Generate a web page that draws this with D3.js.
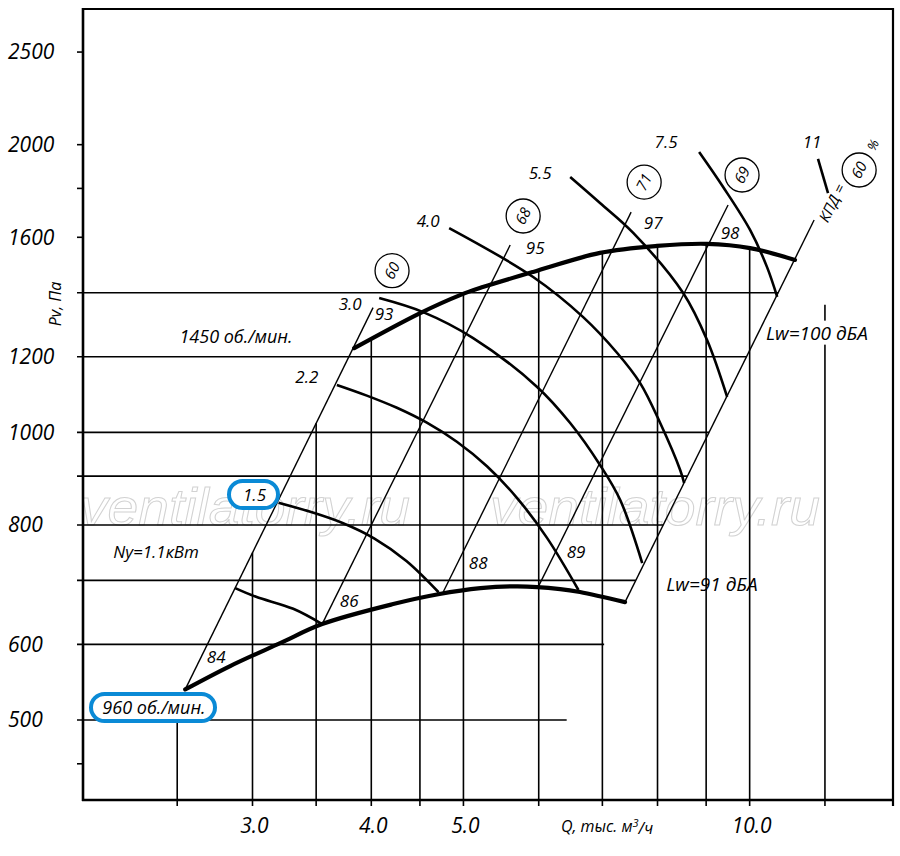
<!DOCTYPE html>
<html><head><meta charset="utf-8">
<script src="https://cdn.jsdelivr.net/npm/d3@7"></script>
<style>
body{margin:0;background:#fff}
text{font-family:"Open Sans",sans-serif;font-style:italic;fill:#000}
</style></head>
<body><svg id="c" width="900" height="856"></svg>
<script>
// ---------------- data ----------------
const qDomain = [1.99, 14.15];          // тыс. м3/ч
const pDomain = [412.4, 2780];          // Па
const qGrid = [2.5, 3, 3.5, 4, 4.5, 5, 6, 7, 8, 9, 10];
const qTickLabels = [3, 4, 5, 10];
const q12 = 12, p12Top = 1360;
const pGrid = [500, 600, 700, 800, 900, 1000, 1200, 1400];
const pTicks = [450, 500, 600, 700, 800, 900, 1000, 1200, 1400, 1600, 1800, 2000, 2500];
const pTickLabels = [500, 600, 800, 1000, 1200, 1600, 2000, 2500];

const curve960 = [[2.549,538.3],[2.842,569.5],[3.208,601.8],[3.551,630.1],[4.218,661.2],[4.704,677],[5.21,687],[5.70,690],[6.32,685.5],[6.63,680.7],[7.395,664.3]];
const curve1450 = [[3.838,1225],[4.503,1333],[4.96,1392],[5.24,1419],[5.92,1472],[6.96,1541],[7.99,1567],[9.02,1575],[10.01,1559],[11.16,1515]];

const powerNames = ["1.1","1.5","2.2","3.0","4.0","5.5","7.5","11"];
const power11 = [[2.877,687.2],[3.026,672.9],[3.311,653.7],[3.551,630.1]];
const power15 = [[3.195,844.2],[3.451,825.8],[3.731,803.8],[4.031,774.2],[4.355,733.5],[4.708,680.3]];
const power22 = [[3.680,1121],[3.957,1092.6],[4.256,1061],[4.576,1023.5],[4.921,977.5],[5.293,921.5],[5.691,854.1],[6.119,776],[6.606,684]];
const power30 = [[4.077,1382],[4.535,1336],[5.119,1255],[5.977,1115.7],[6.475,1022.7],[6.96,924.4],[7.309,849.6],[7.709,729.9]];
const power40 = [[4.83,1636],[5.92,1454],[6.682,1320],[7.256,1210.7],[7.671,1126],[8.052,1022.7],[8.451,913.3],[8.533,885]];
const power55 = [[6.475,1850],[6.96,1737.7],[7.543,1616.8],[8.513,1399],[9.02,1249],[9.469,1089]];
const power75 = [[8.848,1964.9],[9.378,1806],[10.01,1628.5],[10.43,1489],[10.69,1385.8]];
const power110 = [[11.80,1932.7],[12.09,1780]];
const powerCurves = [power11, power15, power22, power30, power40, power55, power75, power110];

// system (constant efficiency / noise) lines: [bottom, top]
const sysLines = [
  [[2.549,538.3],[4.017,1350.5]],
  [[3.551,630.1],[5.599,1570.6]],
  [[4.761,680.7],[7.505,1700]],
  [[5.991,688.8],[9.49,1729.5]],
  [[7.395,664.3],[11.69,1668]]
];
const lwLow = ["84","86","88","89"];
const lwHigh = ["93","95","97","98"];
const effValues = ["60","68","71","69","60"];

// ---------------- drawing ----------------
const svg = d3.select("#c");
const x = d3.scaleLog().domain(qDomain).range([83, 893]);
const y = d3.scaleLog().domain(pDomain).range([800, 8]);
const L = Math.log10;
const P = d => [x(d[0]), y(d[1])];

function lineP(seg, q){ const [[q1,p1],[q2,p2]] = seg; return Math.pow(10, L(p1) + (L(q)-L(q1))*(L(p2)-L(p1))/(L(q2)-L(q1))); }
function lineQ(seg, p){ const [[q1,p1],[q2,p2]] = seg; return Math.pow(10, L(q1) + (L(p)-L(p1))*(L(q2)-L(q1))/(L(p2)-L(p1))); }
function curveP(c, q){
  for(let i=0;i<c.length-1;i++){
    if(q>=c[i][0] && q<=c[i+1][0]){
      const t=(L(q)-L(c[i][0]))/(L(c[i+1][0])-L(c[i][0]));
      return Math.pow(10, L(c[i][1]) + t*(L(c[i+1][1])-L(c[i][1])));
    }
  }
  return c[c.length-1][1];
}

// watermark (beneath)
const wm = svg.append("g");
[80, 490].forEach(x0=>{
  wm.append("text").attr("x",x0).attr("y",525)
    .style("font-family","'Liberation Sans',Arial,sans-serif").style("font-size","52px")
    .style("fill","none").style("stroke","#d2d2d2").style("stroke-width",1)
    .attr("textLength",330).attr("lengthAdjust","spacingAndGlyphs")
    .text("ventilatorry.ru");
});

const grid = svg.append("g").attr("stroke","#000").attr("stroke-width",1.6).attr("fill","none");
// vertical grid lines: bottom to upper envelope
qGrid.forEach(q=>{
  const pTop = q < curve1450[0][0] ? lineP(sysLines[0], q) : curveP(curve1450, q);
  grid.append("line").attr("x1",x(q)).attr("x2",x(q)).attr("y1",y(pTop)).attr("y2",806);
});
grid.append("line").attr("x1",x(q12)).attr("x2",x(q12)).attr("y1",y(p12Top)).attr("y2",806);
// horizontal grid lines: left axis to right boundary line
pGrid.forEach(p=>{
  const qEnd = lineQ(sysLines[4], p);
  grid.append("line").attr("x1",77).attr("x2",x(qEnd)).attr("y1",y(p)).attr("y2",y(p));
});
// extra y ticks
pTicks.filter(p=>!pGrid.includes(p)).forEach(p=>{
  grid.append("line").attr("x1",77).attr("x2",83).attr("y1",y(p)).attr("y2",y(p));
});

// system lines
const sys = svg.append("g").attr("stroke","#000").attr("stroke-width",1.4);
sysLines.forEach(s=>{
  sys.append("line").attr("x1",x(s[0][0])).attr("y1",y(s[0][1])).attr("x2",x(s[1][0])).attr("y2",y(s[1][1]));
});

const line = d3.line().x(d=>x(d[0])).y(d=>y(d[1])).curve(d3.curveCatmullRom.alpha(0.5));
// power curves
svg.append("g").selectAll("path").data(powerCurves).join("path")
  .attr("d", line).attr("fill","none").attr("stroke","#000").attr("stroke-width",2.6);
// operating curves
[curve960, curve1450].forEach(c=>{
  svg.append("path").attr("d", line(c)).attr("fill","none").attr("stroke","#000").attr("stroke-width",4.2).attr("stroke-linecap","round");
});

// frame
const fr = svg.append("g").attr("stroke","#000").attr("fill","none");
fr.append("line").attr("x1",83).attr("x2",83).attr("y1",8).attr("y2",801).attr("stroke-width",2.6);
fr.append("line").attr("x1",82).attr("x2",894).attr("y1",800).attr("y2",800).attr("stroke-width",2.6);
fr.append("line").attr("x1",82).attr("x2",894).attr("y1",9).attr("y2",9).attr("stroke-width",2.2);
fr.append("line").attr("x1",893).attr("x2",893).attr("y1",8).attr("y2",806).attr("stroke-width",2.2);

// axis labels
const fmt1 = d3.format(".1f");
svg.append("g").selectAll("text").data(qTickLabels).join("text")
  .attr("x",d=>x(d)+2).attr("y",826).attr("dy","0.35em").attr("text-anchor","middle")
  .style("font-size","21px").text(d=>fmt1(d));
svg.append("g").selectAll("text").data(pTickLabels).join("text")
  .attr("x",8).attr("y",d=>y(d)).attr("dy","0.35em")
  .style("font-size","21px").text(d=>d);
const qt = svg.append("text").attr("x",607).attr("y",826).attr("dy","0.35em").attr("text-anchor","middle").style("font-size","16px");
qt.append("tspan").text("Q, тыс. м");
qt.append("tspan").attr("dy","-0.45em").style("font-size","11px").text("3");
qt.append("tspan").attr("dy","0.45em").text("/ч");
svg.append("text").attr("transform","translate(61,304) rotate(-90)").attr("text-anchor","middle")
  .style("font-size","16px").text("Pv, Па");

function label(t, cx, cy, size, rot){
  const el = svg.append("text").attr("text-anchor","middle").attr("dy","0.35em")
    .style("font-size",(size||17)+"px").text(t);
  el.attr("transform",`translate(${cx},${cy})` + (rot?` rotate(${rot})`:""));
  return el;
}

// speed labels
label("1450 об./мин.", 236, 337, 18);
// blue boxes
const blue = "#0a8ad6";
svg.append("rect").attr("x",91).attr("y",694).attr("width",124).attr("height",27).attr("rx",13.5)
  .attr("fill","#fff").attr("stroke",blue).attr("stroke-width",4);
label("960 об./мин.", 154, 708, 18);
svg.append("rect").attr("x",229).attr("y",481).attr("width",49).attr("height",27).attr("rx",13.5)
  .attr("fill","#fff").attr("stroke",blue).attr("stroke-width",4);

// power labels (offsets from curve start)
const powerOff = [null,[-24,-8],[-30,-8],[-29,6],[-21,-7],[-30,-4],[-33,-10],[-6,-17]];
powerNames.forEach((n,i)=>{
  if(i===0){ label("Ny=1.1кВт", 156, 552, 17); return; }
  const [px,py] = P(powerCurves[i][0]);
  label(n, px+powerOff[i][0], py+powerOff[i][1], 17);
});

// Lw labels
const lowOff = [[31,-32],[27,-23],[35,-29],[38,-35]];
const highOff = [[11,6],[25,3],[22,11],[2,28]];
lwLow.forEach((t,i)=>{ const [px,py]=P(sysLines[i][0]); label(t, px+lowOff[i][0], py+lowOff[i][1], 17); });
lwHigh.forEach((t,i)=>{ const [px,py]=P(sysLines[i][1]); label(t, px+highOff[i][0], py+highOff[i][1], 17); });

// efficiency circles
const effOff = [[19,-37],[13,-29],[13,-30],[14,-30],[45,-50]];
effValues.forEach((t,i)=>{
  const [px,py]=P(sysLines[i][1]);
  const cx=px+effOff[i][0], cy=py+effOff[i][1];
  svg.append("circle").attr("cx",cx).attr("cy",cy).attr("r",17).attr("fill","#fff").attr("stroke","#000").attr("stroke-width",1.3);
  label(t, cx, cy, 15, -63);
});
{
  const [px,py]=P(sysLines[4][1]);
  label("КПД =", px+18, py-17, 15, -63);
  label("%", px+59, py-75, 13, -63);
}

// Lw totals
{
  const t = label("Lw=100 дБА", 817, 333, 19);
  const b = t.node().getBBox();
  svg.insert("rect", function(){return t.node();}).attr("x",817+b.x-1).attr("y",333+b.y+1).attr("width",b.width+2).attr("height",b.height-2).attr("fill","#fff");
  label("Lw=91 дБА", 712, 584, 19);
}
</script></body></html>
